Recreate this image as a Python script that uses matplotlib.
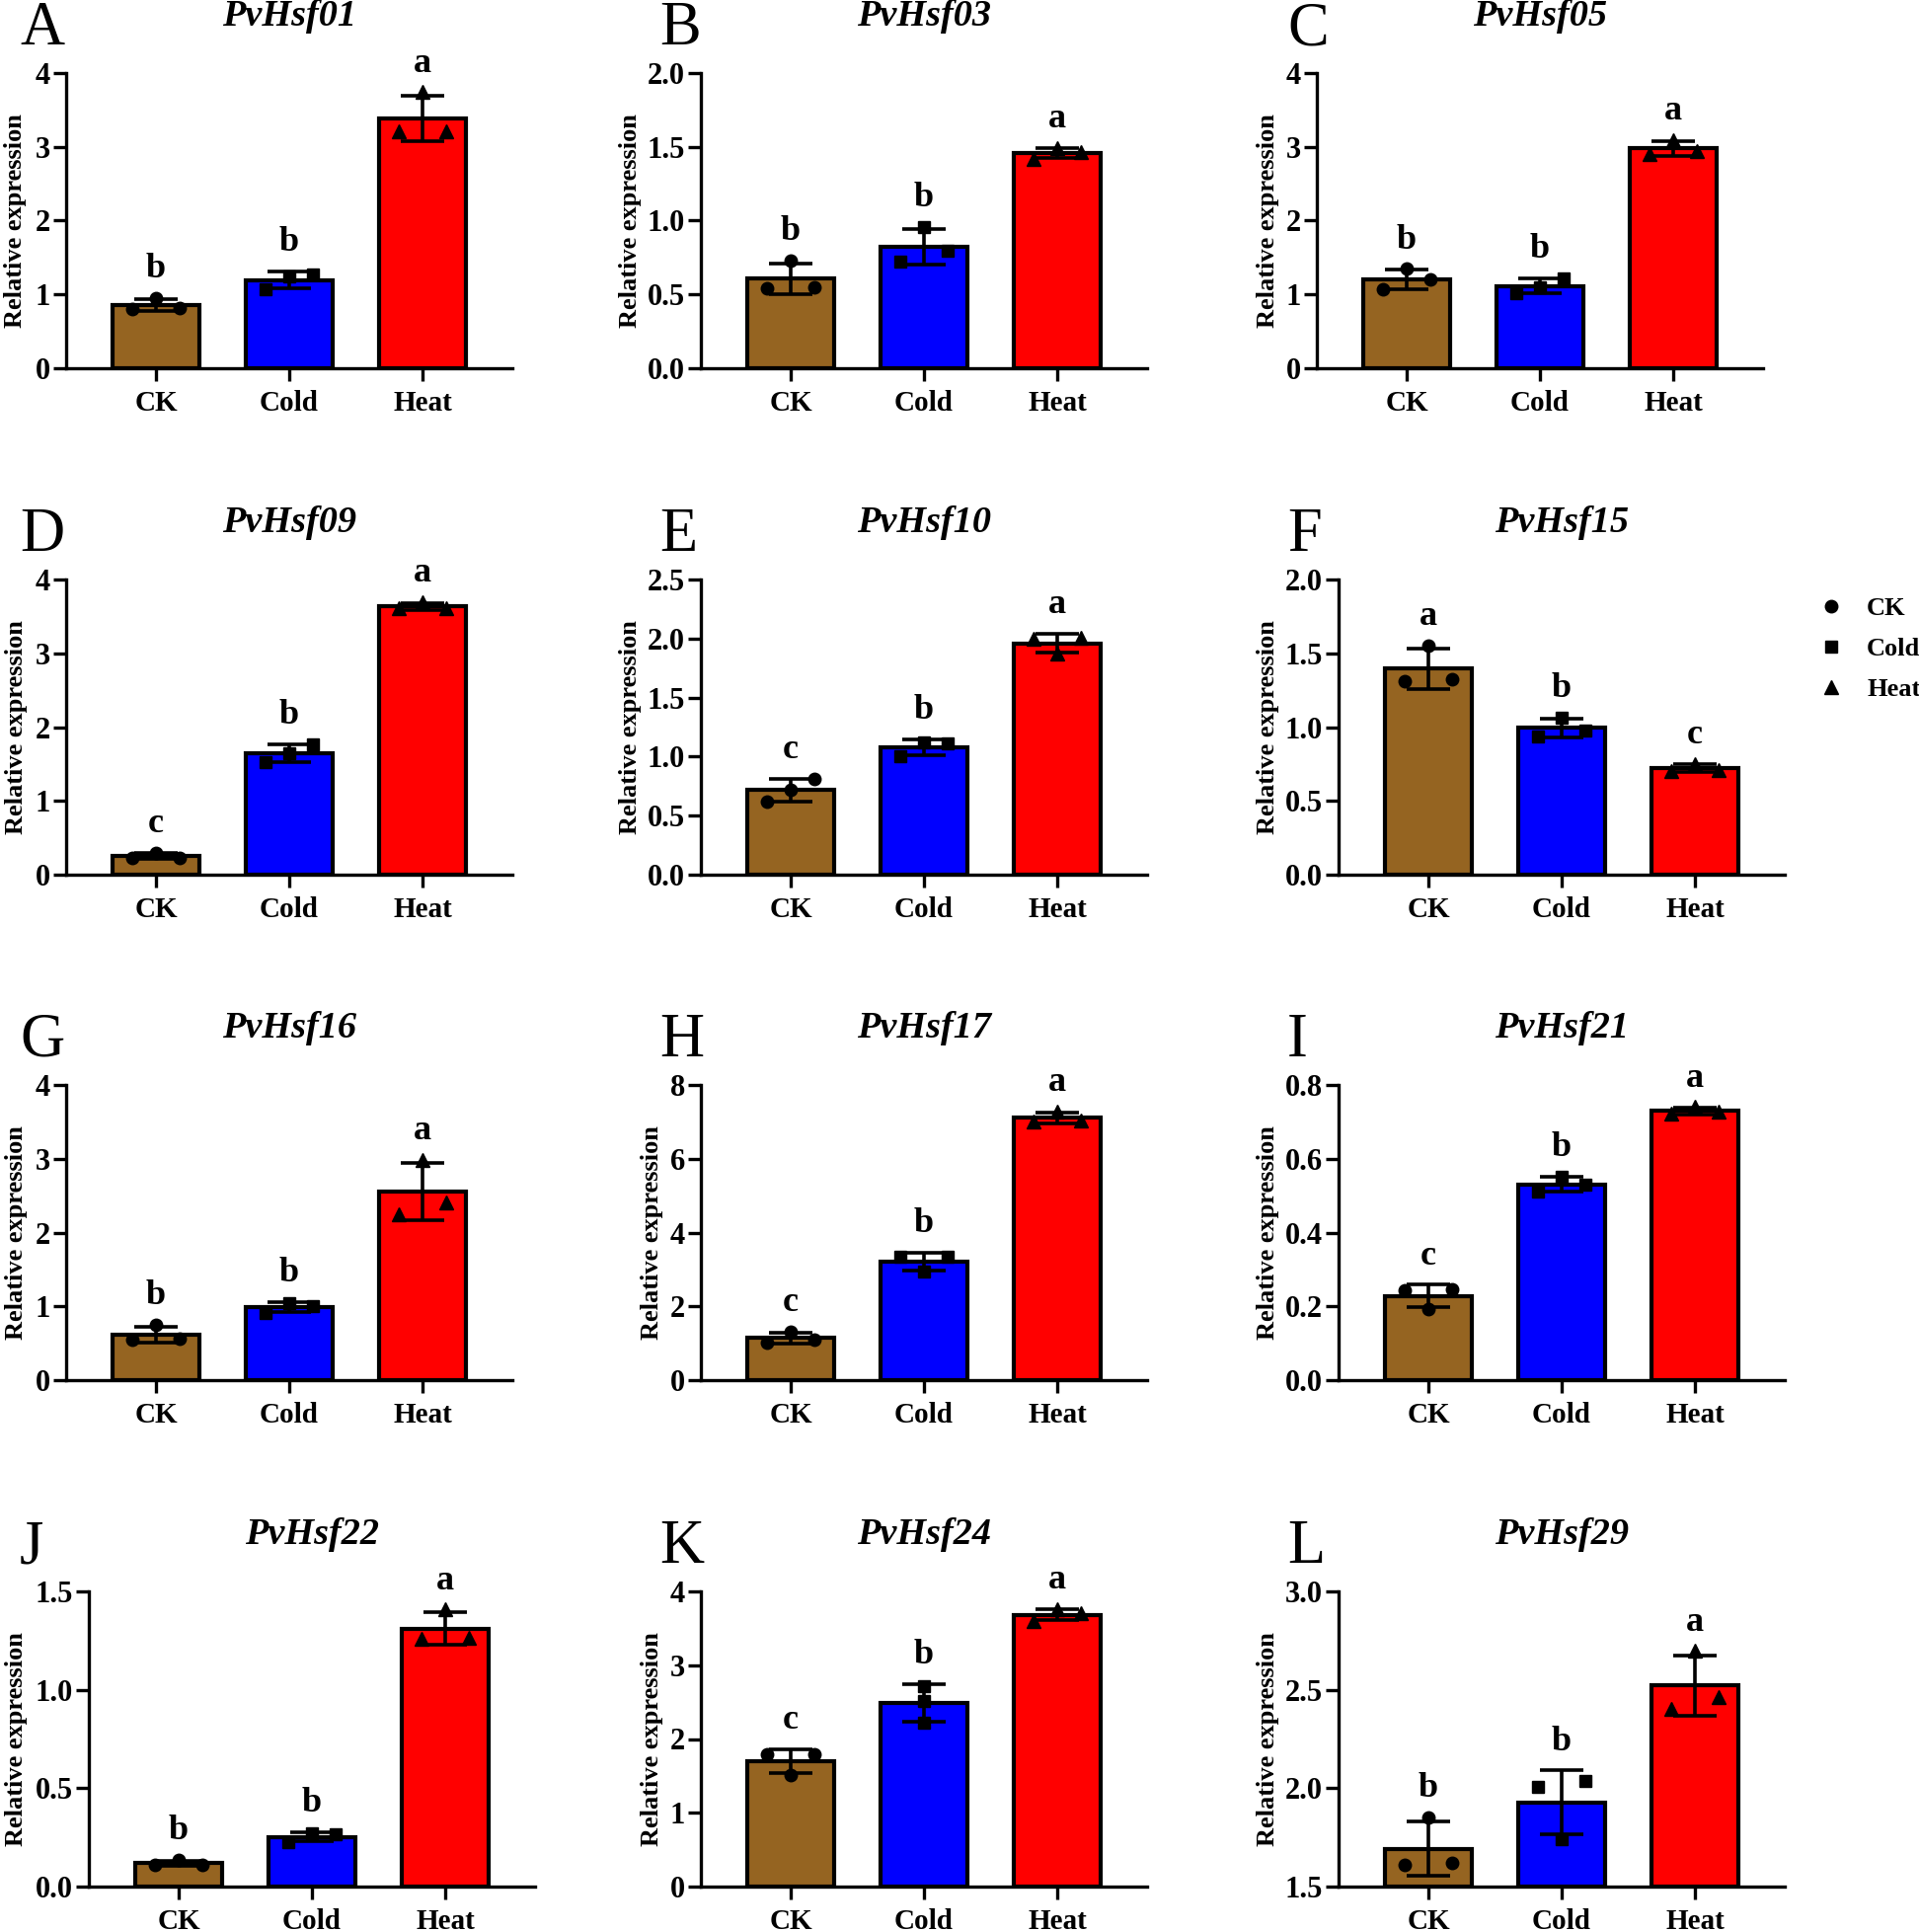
import numpy as np
import matplotlib
matplotlib.use('Agg')
import matplotlib.pyplot as plt
from matplotlib.lines import Line2D

# qRT-PCR of PvHsf genes under cold / heat, 3 replicates per group

genes = ['PvHsf01', 'PvHsf03', 'PvHsf05', 'PvHsf09', 'PvHsf10', 'PvHsf15',
         'PvHsf16', 'PvHsf17', 'PvHsf21', 'PvHsf22', 'PvHsf24', 'PvHsf29']
panel_letters = ['A', 'B', 'C', 'D', 'E', 'F', 'G', 'H', 'I', 'J', 'K', 'L']
treatments = ['CK', 'Cold', 'Heat']

ck_reps = [
    [0.80, 0.95, 0.815],
    [0.54, 0.727, 0.55],
    [1.07, 1.345, 1.20],
    [0.232, 0.30, 0.232],
    [0.62, 0.72, 0.81],
    [1.313, 1.555, 1.324],
    [0.544, 0.745, 0.557],
    [1.008, 1.311, 1.097],
    [0.192, 0.2435, 0.247],
    [0.11, 0.134, 0.11],
    [1.51, 1.79, 1.79],
    [1.608, 1.852, 1.618],
]
cold_reps = [
    [1.07, 1.25, 1.27],
    [0.72, 0.958, 0.794],
    [1.02, 1.10, 1.22],
    [1.52, 1.65, 1.77],
    [1.00, 1.12, 1.11],
    [0.939, 1.066, 0.977],
    [0.914, 1.048, 1.003],
    [2.94, 3.35, 3.35],
    [0.510, 0.550, 0.531],
    [0.227, 0.269, 0.264],
    [2.218, 2.517, 2.722],
    [2.008, 1.743, 2.035],
]
heat_reps = [
    [3.21, 3.74, 3.21],
    [1.419, 1.49, 1.463],
    [2.904, 3.096, 2.94],
    [3.61, 3.688, 3.61],
    [1.87, 2.00, 2.01],
    [0.705, 0.75, 0.71],
    [2.252, 2.988, 2.408],
    [7.003, 7.27, 7.047],
    [0.7226, 0.740, 0.727],
    [1.261, 1.408, 1.266],
    [3.599, 3.755, 3.702],
    [2.405, 2.697, 2.463],
]
sig_letters = [
    ['b', 'b', 'a'], ['b', 'b', 'a'], ['b', 'b', 'a'],
    ['c', 'b', 'a'], ['c', 'b', 'a'], ['a', 'b', 'c'],
    ['b', 'b', 'a'], ['c', 'b', 'a'], ['c', 'b', 'a'],
    ['b', 'b', 'a'], ['c', 'b', 'a'], ['b', 'b', 'a'],
]
y_ranges = [(0, 4), (0, 2), (0, 4), (0, 4), (0, 2.5), (0, 2),
            (0, 4), (0, 8), (0, 0.8), (0, 1.5), (0, 4), (1.5, 3)]
y_steps = [1, 0.5, 1, 1, 0.5, 0.5, 1, 2, 0.2, 0.5, 1, 0.5]

bar_colors = ['#956421', '#0000FF', '#FF0000']
markers = ['o', 's', '^']
marker_sizes = [9, 8, 9.5]

# layout in pixels of the 1944x1957 canvas
W, H = 1944, 1957
axis_left = [67, 710, 1334, 67, 710, 1356, 67, 710, 1356, 90, 710, 1356]
row_top = [74, 587, 1099, 1612]
ylabel_x = [22, 645, 1291, 23, 645, 1291, 23, 667, 1291, 23, 667, 1291]
letter_x = [20, 668, 1304]
ax_w, ax_h = 452, 299

plt.rcParams['font.family'] = 'Liberation Serif'
plt.rcParams['font.weight'] = 'bold'
plt.rcParams['axes.linewidth'] = 2.4


def swarm_offsets(values, px_per_unit, gap=14, slot=0.178):
    # points closer than `gap` pixels are spread sideways, others stay centred
    order = np.argsort(values)
    clusters = [[order[0]]]
    for a, b in zip(order[:-1], order[1:]):
        if abs(values[b] - values[a]) * px_per_unit < gap:
            clusters[-1].append(b)
        else:
            clusters.append([b])
    offsets = np.zeros(len(values))
    for c in clusters:
        c = sorted(c)
        if len(c) == 2:
            offsets[c] = [-slot, slot]
        elif len(c) == 3:
            offsets[c] = [-slot, 0, slot]
    return offsets


fig = plt.figure(figsize=(W / 100, H / 100), dpi=100)

for i, gene in enumerate(genes):
    row, col = divmod(i, 3)
    left, top = axis_left[i], row_top[row]
    ax = fig.add_axes([left / W, 1 - (top + ax_h) / H, ax_w / W, ax_h / H])

    ymin, ymax = y_ranges[i]
    px_per_unit = ax_h / (ymax - ymin)
    groups = [ck_reps[i], cold_reps[i], heat_reps[i]]
    means = np.array([np.mean(g) for g in groups])
    sds = np.array([np.std(g, ddof=1) for g in groups])
    x = np.arange(3)

    ax.bar(x, means - ymin, bottom=ymin, width=0.65, color=bar_colors,
           edgecolor='k', linewidth=3.0, zorder=2)
    ax.errorbar(x, means, yerr=sds, fmt='none', ecolor='k', elinewidth=2.6,
                capsize=16, capthick=2.6, zorder=3)
    for j, g in enumerate(groups):
        g = np.array(g)
        ax.plot(j + swarm_offsets(g, px_per_unit), g, markers[j], color='k',
                ms=marker_sizes[j], ls='none', zorder=4, clip_on=False)
        top_val = max(means[j] + sds[j], g.max())
        ax.annotate(sig_letters[i][j], (j, top_val), xytext=(0, 15),
                    textcoords='offset points', ha='center', va='baseline',
                    fontsize=26, fontweight='bold')

    ax.set_xlim(-0.675, 2.675)
    ax.set_ylim(ymin, ymax)
    ticks = np.arange(ymin, ymax + y_steps[i] / 2, y_steps[i])
    ax.set_yticks(ticks)
    if y_steps[i] < 1:
        ax.set_yticklabels(['%.1f' % t for t in ticks])
    else:
        ax.set_yticklabels(['%d' % t for t in ticks])
    ax.set_xticks(x)
    ax.set_xticklabels(treatments)
    ax.spines['top'].set_visible(False)
    ax.spines['right'].set_visible(False)
    ax.tick_params(axis='both', direction='out', length=9.5, width=2.4)
    ax.tick_params(axis='x', pad=6, labelsize=21)
    ax.tick_params(axis='y', pad=2, labelsize=22)

    ax.text(0.5, 1 + 48 / ax_h, gene, transform=ax.transAxes, ha='center',
            va='baseline', fontsize=27.5, fontweight='bold', fontstyle='italic')
    fig.text(ylabel_x[i] / W, 1 - (top + ax_h / 2) / H, 'Relative expression',
             rotation=90, rotation_mode='anchor', ha='center', va='baseline',
             fontsize=19, fontweight='bold')
    fig.text(letter_x[col] / W, 1 - (top - 29) / H, panel_letters[i],
             fontsize=45, fontweight='normal', va='baseline')

handles = [Line2D([], [], marker=m, color='k', ls='none', ms=s)
           for m, s in zip(markers, marker_sizes)]
fig.legend(handles, treatments, loc='upper left',
           bbox_to_anchor=(1842 / W, 1 - 605 / H), frameon=False, fontsize=19,
           handlelength=1.0, handletextpad=0.86, borderpad=0, borderaxespad=0,
           labelspacing=0.66)

fig.savefig('out.png', dpi=100)
